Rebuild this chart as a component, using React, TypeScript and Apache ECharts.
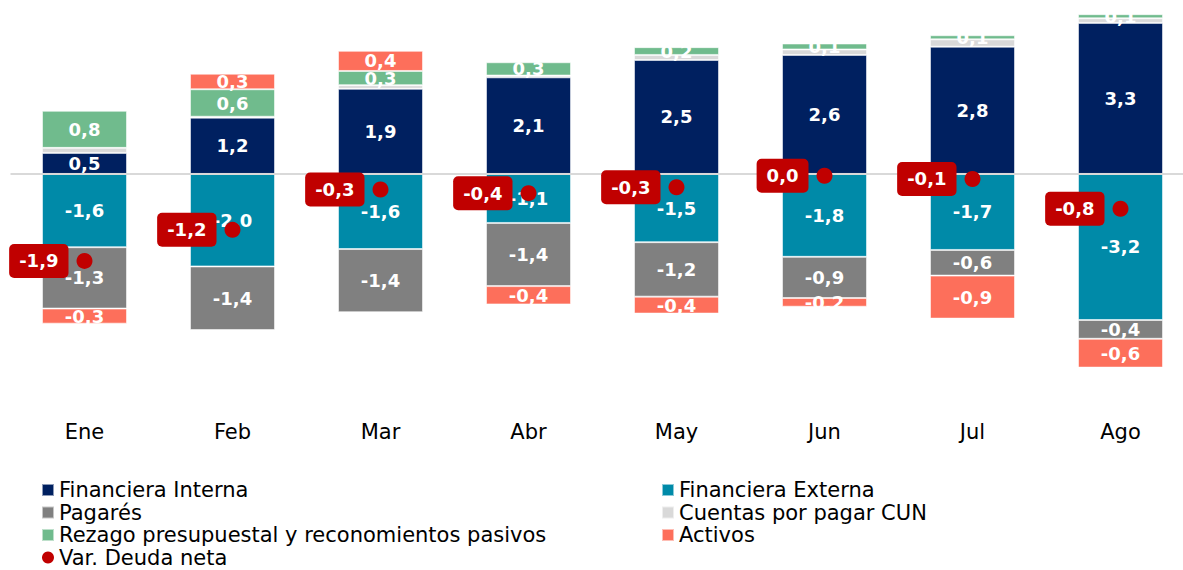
import React, { useEffect, useRef } from "react";
import * as echarts from "echarts";

const months = ["Ene", "Feb", "Mar", "Abr", "May", "Jun", "Jul", "Ago"];
const financieraInterna = [0.46, 1.23, 1.86, 2.11, 2.49, 2.6, 2.78, 3.3];
const financieraExterna = [-1.6, -2.02, -1.64, -1.07, -1.49, -1.81, -1.66, -3.19];
const pagares = [-1.34, -1.39, -1.38, -1.38, -1.19, -0.9, -0.56, -0.41];
const cuentasCUN = [0.11, 0.02, 0.08, 0.04, 0.11, 0.12, 0.16, 0.1];
const rezago = [0.81, 0.6, 0.31, 0.29, 0.17, 0.13, 0.09, 0.09];
const activos = [-0.33, 0.34, 0.44, -0.4, -0.37, -0.19, -0.94, -0.63];
const deudaNeta = [-1.9, -1.22, -0.34, -0.42, -0.29, -0.04, -0.11, -0.76];

const FONT = "DejaVu Sans";

function fmt(v: number): string {
  let s = v.toFixed(1);
  if (s === "-0.0") s = "0.0";
  return s.replace(".", ",");
}

export default function App() {
  const ref = useRef<HTMLDivElement>(null);
  useEffect(() => {
    if (!ref.current) return;
    const chart = echarts.init(ref.current, null, { renderer: "svg" });
    const barLabel = {
      show: true,
      position: "inside",
      color: "#ffffff",
      fontWeight: "bold",
      fontSize: 18,
      fontFamily: FONT,
      formatter: (p: any) => fmt(p.value),
    };
    const border = { borderColor: "rgba(255,255,255,0.55)", borderWidth: 1 };
    const bar = (name: string, data: number[], color: string, label: boolean, extra: any = {}) => ({
      name,
      type: "bar",
      stack: "total",
      barWidth: 85,
      data,
      itemStyle: { color, ...border },
      label: label ? barLabel : { show: false },
      ...extra,
    });
    const legendText = { fontSize: 21, lineHeight: 19, color: "#000", fontFamily: FONT };
    chart.setOption({
      animation: false,
      textStyle: { fontFamily: FONT },
      grid: { left: 10.5, top: 0, width: 1184, height: 412 },
      xAxis: {
        type: "category",
        data: months,
        position: "bottom",
        axisLine: { show: false, onZero: false },
        axisTick: { show: false },
        axisLabel: { fontSize: 21, color: "#000", fontFamily: FONT, margin: 9 },
      },
      yAxis: {
        type: "value",
        min: -5.2,
        max: 3.8,
        show: false,
        splitLine: { show: false },
      },
      legend: [
        {
          orient: "vertical",
          left: 41,
          top: 479.5,
          height: 140,
          padding: 0,
          itemWidth: 12,
          itemHeight: 12,
          itemGap: 1.5,
          textStyle: legendText,
          data: [
            { name: "Financiera Interna", icon: "rect" },
            { name: "Pagarés", icon: "rect" },
            { name: "Rezago presupuestal y reconomientos pasivos", icon: "rect" },
            { name: "Var. Deuda neta", icon: "circle" },
          ],
        },
        {
          orient: "vertical",
          left: 661,
          top: 479.5,
          height: 140,
          padding: 0,
          itemWidth: 12,
          itemHeight: 12,
          itemGap: 1.5,
          textStyle: legendText,
          data: [
            { name: "Financiera Externa", icon: "rect" },
            { name: "Cuentas por pagar CUN", icon: "rect" },
            { name: "Activos", icon: "rect" },
          ],
        },
      ],
      series: [
        bar("Financiera Interna", financieraInterna, "#002060", true, {
          markLine: {
            silent: true,
            symbol: "none",
            label: { show: false },
            lineStyle: { color: "#d9d9d9", width: 2, type: "solid" },
            data: [{ yAxis: 0 }],
            z: 5,
          },
        }),
        bar("Financiera Externa", financieraExterna, "#008aa8", true),
        bar("Pagarés", pagares, "#808080", true),
        bar("Cuentas por pagar CUN", cuentasCUN, "#d9d9d9", false),
        bar("Rezago presupuestal y reconomientos pasivos", rezago, "#70bb8d", true),
        bar("Activos", activos, "#fd6f5b", true),
        {
          name: "Var. Deuda neta",
          type: "scatter",
          data: deudaNeta,
          symbol: "circle",
          symbolSize: 16,
          z: 10,
          itemStyle: { color: "#c00000", opacity: 1 },
          label: {
            show: true,
            position: "left",
            distance: 8,
            backgroundColor: "#c00000",
            borderRadius: 5,
            padding: [8, 10, 8, 10],
            color: "#ffffff",
            fontWeight: "bold",
            fontSize: 18,
            fontFamily: FONT,
            formatter: (p: any) => fmt(p.value),
          },
        },
      ],
    });
    return () => chart.dispose();
  }, []);
  return (
    <div
      ref={ref}
      style={{ position: "fixed", left: 0, top: 0, width: 1200, height: 570, background: "#fff" }}
    />
  );
}
